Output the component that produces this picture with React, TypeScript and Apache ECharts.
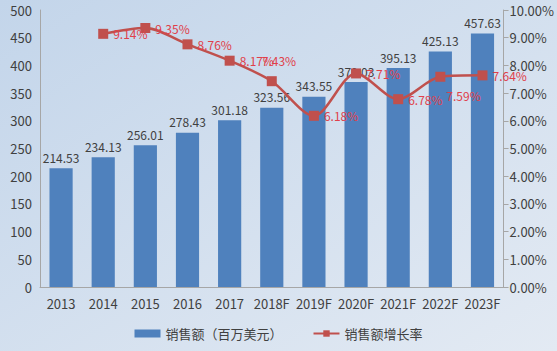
import React, { useEffect, useRef } from "react";
import * as echarts from "echarts";

const categories = ["2013", "2014", "2015", "2016", "2017", "2018F", "2019F", "2020F", "2021F", "2022F", "2023F"];
const salesValues = [214.53, 234.13, 256.01, 278.43, 301.18, 323.56, 343.55, 370.03, 395.13, 425.13, 457.63];
const growthValues: (number | null)[] = [null, 9.14, 9.35, 8.76, 8.17, 7.43, 6.18, 7.71, 6.78, 7.59, 7.64];
const seriesNames = ["销售额（百万美元）", "销售额增长率"];

export default function App() {
  const ref = useRef<HTMLDivElement>(null);
  useEffect(() => {
    if (!ref.current) return;
    const chart = echarts.init(ref.current, undefined, { renderer: "svg" });
    const font = "'Noto Sans CJK SC', 'Noto Sans', sans-serif";
    const lineData = growthValues.map((v, i) => {
      if (categories[i] === "2018F") {
        return { value: v, label: { position: "right", offset: [-20, -21] } };
      }
      if (categories[i] === "2022F") {
        return { value: v, label: { position: "right", offset: [-4, 19] } };
      }
      return v;
    });
    chart.setOption({
      animation: false,
      backgroundColor: new echarts.graphic.LinearGradient(0, 0, 1, 1, [
        { offset: 0, color: "#c3d5ea" },
        { offset: 1, color: "#e3eaf3" },
      ]),
      textStyle: { fontFamily: font },
      grid: { left: 40, right: 52, top: 10, bottom: 64, containLabel: false },
      legend: {
        bottom: 6,
        left: "center",
        itemGap: 30,
        itemWidth: 26,
        itemHeight: 8,
        textStyle: { fontSize: 13, color: "#404040", fontFamily: font },
        data: [
          { name: seriesNames[0], icon: "rect" },
          { name: seriesNames[1] },
        ],
      },
      xAxis: {
        type: "category",
        data: categories,
        axisLine: { lineStyle: { color: "#a6a6a6" } },
        axisTick: { show: false },
        axisLabel: { color: "#404040", fontSize: 13, margin: 10, interval: 0 },
      },
      yAxis: [
        {
          type: "value",
          min: 0,
          max: 500,
          interval: 50,
          axisLine: { show: true, lineStyle: { color: "#a6a6a6" } },
          axisTick: { show: false },
          splitLine: { show: false },
          axisLabel: { color: "#404040", fontSize: 13, margin: 8 },
        },
        {
          type: "value",
          min: 0,
          max: 10,
          interval: 1,
          position: "right",
          axisLine: { show: true, lineStyle: { color: "#a6a6a6" } },
          axisTick: { show: true, length: 5, lineStyle: { color: "#a6a6a6" } },
          splitLine: { show: false },
          axisLabel: {
            color: "#404040",
            fontSize: 13,
            margin: 6,
            formatter: (v: number) => v.toFixed(2) + "%",
          },
        },
      ],
      series: [
        {
          name: seriesNames[0],
          type: "bar",
          data: salesValues,
          barWidth: "55%",
          itemStyle: { color: "#4f81bd" },
          label: {
            show: true,
            position: "top",
            color: "#404040",
            fontSize: 12,
            distance: 5,
            formatter: (p: any) => p.value.toFixed(2),
          },
        },
        {
          name: seriesNames[1],
          type: "line",
          yAxisIndex: 1,
          data: lineData,
          smooth: 0.3,
          symbol: "rect",
          symbolSize: 10,
          lineStyle: { color: "#c0504d", width: 2.5 },
          itemStyle: { color: "#c0504d" },
          label: {
            show: true,
            position: "right",
            color: "#e0404a",
            fontSize: 12,
            distance: 5,
            formatter: (p: any) => (p.value == null ? "" : Number(p.value).toFixed(2) + "%"),
          },
        },
      ],
    });
    return () => chart.dispose();
  }, []);
  return <div ref={ref} style={{ width: 557, height: 351, position: "absolute", left: 0, top: 0 }} />;
}
